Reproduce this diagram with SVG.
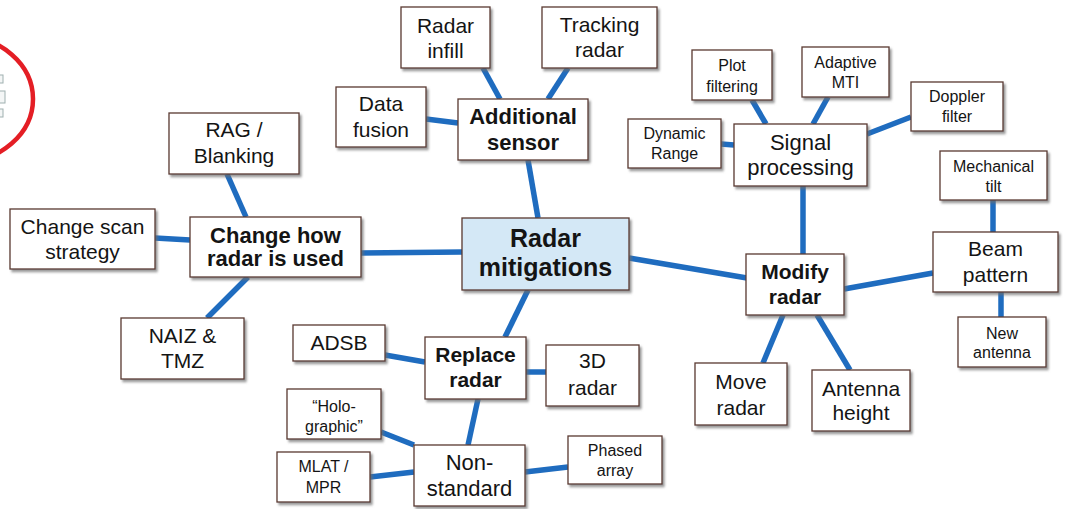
<svg xmlns="http://www.w3.org/2000/svg" width="1066" height="509" viewBox="0 0 1066 509">
<style>
.box{fill:#fff;stroke:#5a3a32;stroke-width:1.3;filter:url(#sh)}
.hub{fill:#d4e8f6}
text{font-family:"Liberation Sans",Arial,sans-serif;fill:#141414;text-anchor:middle}
.b{font-weight:bold}
.l{font-size:21px}
.s{font-size:16px}
.m{font-size:22px}
.c{stroke:#1f6cbf;stroke-width:5.5;fill:none}
</style>
<defs>
<filter id="sh" x="-10%" y="-10%" width="130%" height="140%">
<feDropShadow dx="2" dy="2.5" stdDeviation="1.2" flood-color="#6d6d6d" flood-opacity="0.7"/>
</filter>
</defs>
<rect width="1066" height="509" fill="#fff"/>
<g id="artifact">
<rect x="-4" y="75" width="7" height="8" fill="#f4f6f6" stroke="#9fb0b0"/>
<rect x="-4" y="91" width="9" height="12" fill="#f4f6f6" stroke="#9fb0b0"/>
<rect x="-4" y="109" width="7" height="8" fill="#f4f6f6" stroke="#9fb0b0"/>
<ellipse cx="-40" cy="99" rx="73" ry="63" fill="none" stroke="#e41e25" stroke-width="4.5"/>
</g>
<g id="connectors" class="c">
<line x1="528" y1="160" x2="538" y2="218"/>
<line x1="483" y1="68" x2="500" y2="99"/>
<line x1="568" y1="68" x2="548" y2="99"/>
<line x1="426" y1="119" x2="458" y2="123"/>
<line x1="361" y1="253" x2="462" y2="252"/>
<line x1="227" y1="174" x2="246" y2="217"/>
<line x1="155" y1="238" x2="190" y2="240"/>
<line x1="207" y1="318" x2="248" y2="277"/>
<line x1="629" y1="258" x2="747" y2="278"/>
<line x1="803" y1="186" x2="803" y2="254"/>
<line x1="844" y1="289" x2="933" y2="273"/>
<line x1="993" y1="200" x2="993" y2="232"/>
<line x1="1001" y1="292" x2="1001" y2="317"/>
<line x1="783" y1="315" x2="763" y2="363"/>
<line x1="817" y1="315" x2="850" y2="370"/>
<line x1="752" y1="100" x2="766" y2="124"/>
<line x1="828" y1="97" x2="813" y2="124"/>
<line x1="721" y1="144" x2="734" y2="145"/>
<line x1="867" y1="134" x2="911" y2="117"/>
<line x1="528" y1="290" x2="505" y2="337"/>
<line x1="385" y1="355" x2="425" y2="362"/>
<line x1="526" y1="372" x2="546" y2="372"/>
<line x1="478" y1="399" x2="468" y2="445"/>
<line x1="381" y1="432" x2="414" y2="445"/>
<line x1="370" y1="477" x2="414" y2="472"/>
<line x1="525" y1="472" x2="568" y2="467"/>
</g>
<g id="radar-mitigations"><rect class="box hub" x="462" y="218" width="167" height="72"/><text class="b" font-size="25" x="545.5" y="247">Radar</text><text class="b" font-size="25" x="545.5" y="276">mitigations</text></g>
<g id="additional-sensor"><rect class="box" x="458" y="99" width="130" height="61"/><text class="b m" x="523" y="124">Additional</text><text class="b m" x="523" y="150">sensor</text></g>
<g id="radar-infill"><rect class="box" x="401" y="7" width="89" height="61"/><text class="l" x="445.5" y="33">Radar</text><text class="l" x="445.5" y="58">infill</text></g>
<g id="tracking-radar"><rect class="box" x="542" y="7" width="115" height="61"/><text class="l" x="599.5" y="32">Tracking</text><text class="l" x="599.5" y="57">radar</text></g>
<g id="data-fusion"><rect class="box" x="336" y="87" width="90" height="60"/><text class="l" x="381" y="111">Data</text><text class="l" x="381" y="137">fusion</text></g>
<g id="signal-processing"><rect class="box" x="734" y="124" width="133" height="62"/><text class="m" x="800.5" y="150">Signal</text><text class="m" x="800.5" y="175">processing</text></g>
<g id="plot-filtering"><rect class="box" x="692" y="50" width="80" height="50"/><text class="s" x="732" y="71">Plot</text><text class="s" x="732" y="92">filtering</text></g>
<g id="adaptive-mti"><rect class="box" x="802" y="47" width="87" height="50"/><text class="s" x="845.5" y="68">Adaptive</text><text class="s" x="845.5" y="88">MTI</text></g>
<g id="dynamic-range"><rect class="box" x="628" y="119" width="93" height="49"/><text class="s" x="674.5" y="139">Dynamic</text><text class="s" x="674.5" y="159">Range</text></g>
<g id="doppler-filter"><rect class="box" x="911" y="82" width="92" height="49"/><text class="s" x="957" y="102">Doppler</text><text class="s" x="957" y="122">filter</text></g>
<g id="mechanical-tilt"><rect class="box" x="940" y="151" width="107" height="49"/><text class="s" x="993.5" y="172">Mechanical</text><text class="s" x="993.5" y="192">tilt</text></g>
<g id="beam-pattern"><rect class="box" x="933" y="232" width="125" height="60"/><text class="l" x="995.5" y="256">Beam</text><text class="l" x="995.5" y="282">pattern</text></g>
<g id="new-antenna"><rect class="box" x="958" y="317" width="88" height="50"/><text class="s" x="1002" y="339">New</text><text class="s" x="1002" y="358">antenna</text></g>
<g id="modify-radar"><rect class="box" x="746" y="254" width="98" height="61"/><text class="b l" x="795" y="279">Modify</text><text class="b l" x="795" y="304">radar</text></g>
<g id="move-radar"><rect class="box" x="695" y="363" width="92" height="62"/><text class="l" x="741" y="389">Move</text><text class="l" x="741" y="415">radar</text></g>
<g id="antenna-height"><rect class="box" x="812" y="370" width="98" height="61"/><text class="l" x="861" y="396">Antenna</text><text class="l" x="861" y="420">height</text></g>
<g id="change-how"><rect class="box" x="190" y="217" width="171" height="60"/><text class="b m" x="275.5" y="243">Change how</text><text class="b m" x="275.5" y="266">radar is used</text></g>
<g id="rag-blanking"><rect class="box" x="169" y="113" width="130" height="61"/><text class="l" x="234" y="137">RAG /</text><text class="l" x="234" y="163">Blanking</text></g>
<g id="change-scan"><rect class="box" x="10" y="209" width="145" height="60"/><text class="l" x="82.5" y="234">Change scan</text><text class="l" x="82.5" y="259">strategy</text></g>
<g id="naiz-tmz"><rect class="box" x="121" y="318" width="123" height="61"/><text class="l" x="182.5" y="343">NAIZ &amp;</text><text class="l" x="182.5" y="368">TMZ</text></g>
<g id="replace-radar"><rect class="box" x="425" y="337" width="101" height="62"/><text class="b l" x="475.5" y="362">Replace</text><text class="b l" x="475.5" y="387">radar</text></g>
<g id="adsb"><rect class="box" x="293" y="325" width="92" height="36"/><text class="l" x="339" y="350">ADSB</text></g>
<g id="radar-3d"><rect class="box" x="546" y="345" width="93" height="61"/><text class="l" x="592.5" y="368">3D</text><text class="l" x="592.5" y="395">radar</text></g>
<g id="holographic"><rect class="box" x="287" y="389" width="94" height="50"/><text class="s" x="334" y="412">“Holo-</text><text class="s" x="334" y="432">graphic”</text></g>
<g id="mlat-mpr"><rect class="box" x="277" y="452" width="93" height="50"/><text class="s" x="323.5" y="472">MLAT /</text><text class="s" x="323.5" y="493">MPR</text></g>
<g id="non-standard"><rect class="box" x="414" y="445" width="111" height="61"/><text class="m" x="469.5" y="470">Non-</text><text class="m" x="469.5" y="496">standard</text></g>
<g id="phased-array"><rect class="box" x="568" y="436" width="94" height="48"/><text class="s" x="615" y="456">Phased</text><text class="s" x="615" y="476">array</text></g>
</svg>
